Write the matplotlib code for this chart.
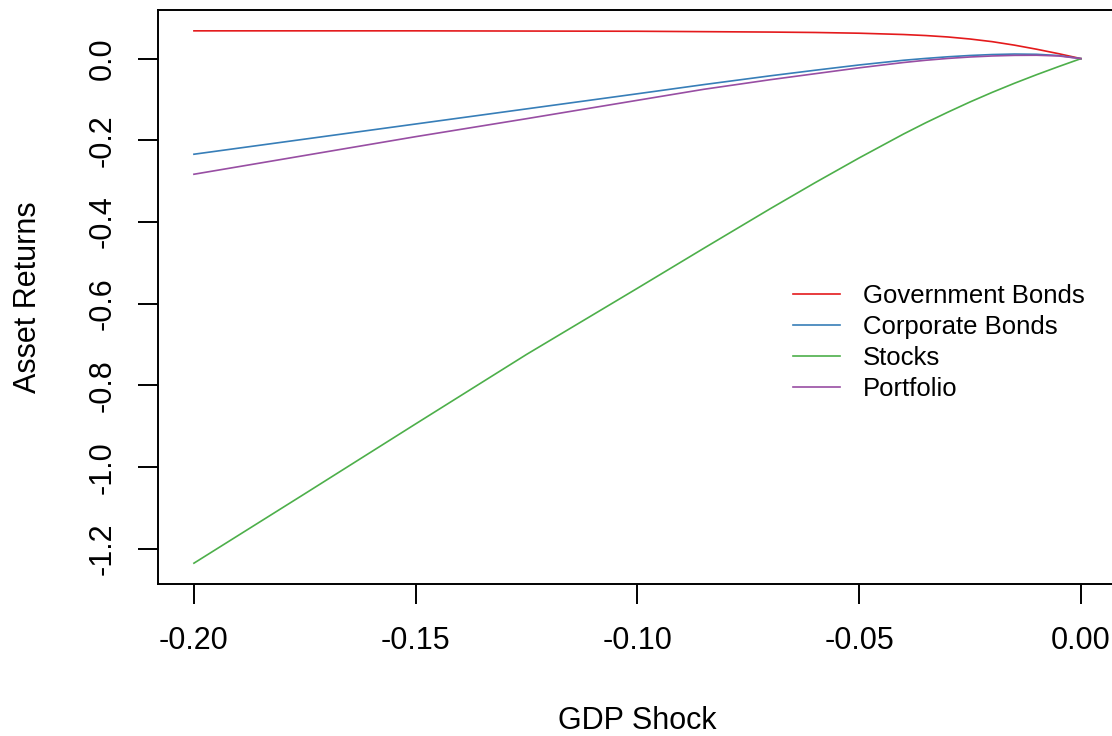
import matplotlib
matplotlib.use('Agg')
import matplotlib.pyplot as plt

plt.rcParams['font.family'] = ['Liberation Sans', 'DejaVu Sans']

# GDP shock grid and asset returns
gdp_shock = [-0.200, -0.175, -0.150, -0.125, -0.100, -0.085, -0.070, -0.060, -0.050,
             -0.040, -0.035, -0.030, -0.025, -0.020, -0.015, -0.010, -0.005, 0.000]
gov_bonds = [0.068, 0.068, 0.068, 0.0675, 0.067, 0.066, 0.065, 0.064, 0.0622,
             0.0590, 0.0565, 0.0530, 0.0480, 0.0415, 0.0330, 0.0230, 0.0120, 0.0]
corp_bonds = [-0.234, -0.197, -0.160, -0.123, -0.086, -0.0635, -0.042, -0.0285, -0.0155,
              -0.004, 0.0005, 0.0045, 0.0077, 0.0100, 0.0112, 0.0106, 0.0075, 0.0]
stocks = [-1.235, -1.065, -0.894, -0.724, -0.562, -0.464, -0.367, -0.304, -0.243,
          -0.1845, -0.157, -0.131, -0.106, -0.0825, -0.0603, -0.0393, -0.0193, 0.0]
portfolio = [-0.283, -0.237, -0.191, -0.147, -0.102, -0.075, -0.0515, -0.037, -0.0225,
             -0.0095, -0.0040, 0.0005, 0.0040, 0.0065, 0.0080, 0.0083, 0.0065, 0.0]

series_names = ['Government Bonds', 'Corporate Bonds', 'Stocks', 'Portfolio']
series_colors = ['#E41A1C', '#377EB8', '#4DAF4A', '#984EA3']
x_ticks = [-0.20, -0.15, -0.10, -0.05, 0.00]
y_ticks = [0.0, -0.2, -0.4, -0.6, -0.8, -1.0, -1.2]

fig = plt.figure(figsize=(11.12, 7.36), dpi=100)
ax = fig.add_axes([0.1425, 0.2065, 0.8615, 0.7799])

for vals, name, col in zip([gov_bonds, corp_bonds, stocks, portfolio], series_names, series_colors):
    ax.plot(gdp_shock, vals, color=col, lw=1.2, label=name)

ax.set_xlim(-0.208, 0.008)
ax.set_ylim(-1.286, 0.119)
ax.set_xticks(x_ticks)
ax.set_xticklabels(['%.2f' % t for t in x_ticks])
ax.set_yticks(y_ticks)
ax.set_yticklabels(['%.1f' % t for t in y_ticks], rotation=90, va='center')

for s in ax.spines.values():
    s.set_linewidth(1.4)
ax.tick_params(axis='both', labelsize=22, length=14.4, width=1.4)
ax.tick_params(axis='x', pad=16)
ax.tick_params(axis='y', pad=15)

ax.set_xlabel('GDP Shock', fontsize=22)
ax.xaxis.set_label_coords(0.5, -0.2125)
ax.set_ylabel('Asset Returns', fontsize=22)
ax.yaxis.set_label_coords(-0.1206, 0.5)

ax.legend(loc='upper left', bbox_to_anchor=(0.7131, 0.6145), bbox_transform=fig.transFigure,
          frameon=False, fontsize=18.5, handlelength=1.83, handletextpad=0.89,
          labelspacing=0.27, borderpad=0, borderaxespad=0)

plt.savefig('out.png', dpi=100)
